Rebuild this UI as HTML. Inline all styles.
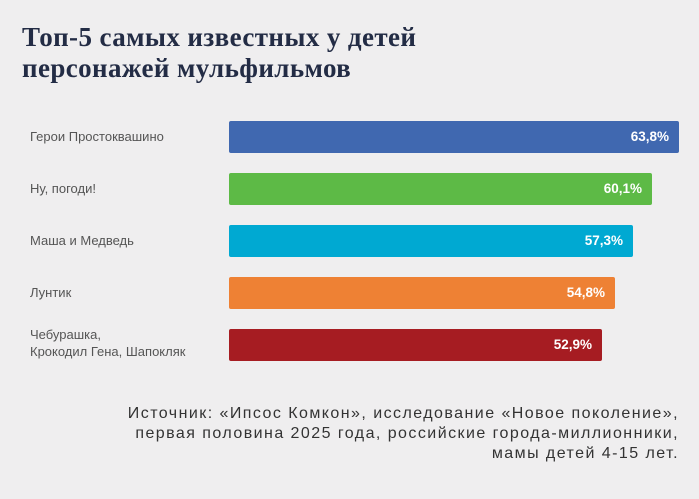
<!DOCTYPE html>
<html><head><meta charset="utf-8"><style>
body{margin:0;width:699px;height:499px;background:#efeeef;position:relative;overflow:hidden;font-family:"Liberation Sans",sans-serif}
.t{position:absolute;left:22px;top:22px;font-family:"Liberation Serif",serif;font-weight:bold;font-size:27px;line-height:31px;color:#232c45;letter-spacing:0.4px}
.l{position:absolute;left:30px;font-size:13px;color:#555;line-height:17px}
.b{position:absolute;left:229px;height:32px;border-radius:2px;color:#fff;font-weight:bold;font-size:13.5px;text-align:right;box-sizing:border-box;padding-right:10px;line-height:32px}
.s{position:absolute;right:20px;top:404px;text-align:right;font-size:16px;line-height:20px;color:#333;letter-spacing:1.45px;white-space:nowrap}
</style></head><body>
<div class="t">Топ-5 самых известных у детей<br>персонажей мульфильмов</div>
<div class="l" style="top:128px">Герои Простоквашино</div>
<div class="l" style="top:180px">Ну, погоди!</div>
<div class="l" style="top:232px">Маша и Медведь</div>
<div class="l" style="top:284px">Лунтик</div>
<div class="l" style="top:326px">Чебурашка,<br>Крокодил Гена, Шапокляк</div>
<div class="b" style="top:121px;width:450px;background:#4068b0">63,8%</div>
<div class="b" style="top:173px;width:423px;background:#5dba46">60,1%</div>
<div class="b" style="top:225px;width:404px;background:#00a9d2">57,3%</div>
<div class="b" style="top:277px;width:386px;background:#ee8134">54,8%</div>
<div class="b" style="top:329px;width:373px;background:#a61c22">52,9%</div>
<div class="s">Источник: «Ипсос Комкон», исследование «Новое поколение»,<br>первая половина 2025 года, российские города-миллионники,<br>мамы детей 4-15 лет.</div>
</body></html>
